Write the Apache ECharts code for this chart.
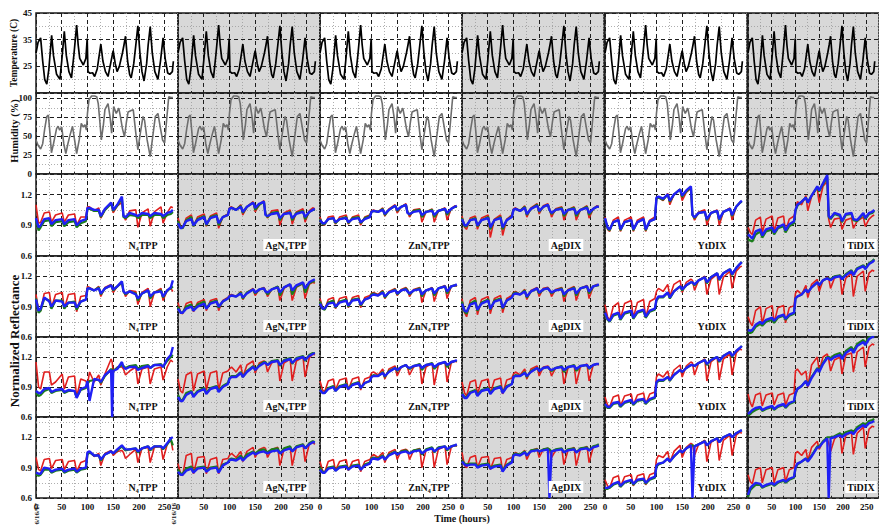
<!DOCTYPE html>
<html><head><meta charset="utf-8">
<script src="https://cdn.jsdelivr.net/npm/echarts@6/dist/echarts.min.js"></script>
<style>html,body{margin:0;padding:0;background:#fff}#c{width:879px;height:529px}</style>
</head><body><div id="c"></div>
<script>
// ---------- data ----------
const xTickLabels=[0,50,100,150,200,250];
const materials=['N₄TPP','AgN₄TPP','ZnN₄TPP','AgDIX','YtDIX','TiDIX'];

const tempHours=[0,4,9,13,17,21,25,30.4,34,40,46.5,50,55,59,64,69,74,79,82,85,92,97,99.5,101,105,110,114,119,122,126,130,135,140,145,150,154,157.6,162,168,171,174,178,182,185,190,194,198,202,206,210,215,218,222,226,231,237,242,247,251,256,260,265,267];
const tempC=[30,34,35.7,27,20,18.3,24,36.6,29,22,20.1,27,38.1,29,23,20.7,30,40.5,33,28,25.5,28,35.4,23,22.4,22.6,21.2,24,28,33.3,27,23,21.2,26,30.9,26,23,25,30,33,36.3,27,22,20.7,26,33,40.2,30,23,19.5,26,33,39.9,30,23,20.1,27,35.7,28,22.5,22,23,26.9];

const humHours=[0,4,9,13,17,21,24,27,30,34,40,43,46,50,54,58,62,66,71,75,79,84,88,92,95,98,100,103,108,114,118,121,124,127,131,134,140,144,147,151,156,161,164,168,172,176,179,185,189,194,198,203,208,211,216,222,227,232,237,242,246,250,254.5,258,262,266];
const humPct=[45,38,33,40,60,76,78,55,28,40,60,63,58,62,40,27,40,51,63,45,27,45,67,62,65,58,80,98,103,103,102,93,70,45,65,85,93,75,54,89,80,87,76,60,49,70,82,84,85,54,32,55,76,71,45,23,50,76,80,60,45,41,76,102,101,101];

const reflHours=[0,5,9,16,26,30,38,51,55,63,75,79,87,97,100,104,113,122,126,134,146,148,150,158,167,170,174,182,194,198,206,218,222,230,243,247,255,262,266];

// reflectance row 1
const r1c1Red=[1.10,0.92,0.93,1.02,1.03,0.93,1.00,1.02,0.93,1.00,1.01,0.90,0.98,0.98,1.08,1.08,1.04,1.07,0.97,1.05,1.12,1.08,1.02,1.09,1.12,1.00,0.95,1.04,1.05,0.88,1.02,1.06,0.89,1.03,1.08,0.92,1.02,1.08,1.07];
const r1c1Green=[0.95,0.85,0.88,0.94,0.95,0.89,0.93,0.94,0.89,0.93,0.94,0.88,0.92,0.94,1.06,1.06,1.04,1.04,0.98,1.05,1.11,1.08,1.04,1.09,1.16,0.98,0.97,1.00,0.99,0.97,1.00,1.00,0.97,1.00,1.00,0.97,1.00,1.01,1.03];
const r1c1Blue=[0.97,0.88,0.90,0.96,0.97,0.91,0.95,0.96,0.91,0.95,0.96,0.90,0.94,0.96,1.07,1.07,1.05,1.05,0.99,1.06,1.12,1.09,1.05,1.10,1.18,0.99,0.98,1.02,1.00,0.99,1.02,1.01,0.99,1.02,1.01,0.99,1.02,1.03,1.05];
const r1c2Red=[0.97,0.89,0.87,0.97,1.00,0.89,0.98,1.01,0.89,0.99,1.02,0.87,0.98,1.01,1.07,1.08,1.05,1.10,1.00,1.08,1.13,1.09,1.03,1.10,1.14,1.02,0.97,1.04,1.05,0.90,1.02,1.05,0.91,1.03,1.06,0.93,1.04,1.07,1.06];
const r1c2Green=[0.94,0.88,0.87,0.95,0.98,0.89,0.96,0.99,0.90,0.98,1.00,0.90,0.98,1.00,1.06,1.07,1.05,1.09,1.02,1.08,1.12,1.10,1.05,1.10,1.13,1.01,0.98,1.02,1.03,0.95,1.01,1.03,0.95,1.02,1.04,0.96,1.03,1.05,1.05];
const r1c2Blue=[0.92,0.87,0.88,0.94,0.96,0.90,0.95,0.98,0.91,0.97,0.99,0.92,0.98,1.00,1.06,1.07,1.05,1.08,1.03,1.08,1.12,1.10,1.07,1.11,1.13,1.00,0.99,1.01,1.02,0.97,1.01,1.02,0.97,1.01,1.03,0.98,1.03,1.05,1.06];
const r1c3Red=[0.98,0.91,0.90,0.98,0.99,0.91,0.98,1.00,0.91,0.98,1.00,0.90,0.98,1.00,1.04,1.05,1.03,1.07,0.99,1.06,1.10,1.06,1.02,1.08,1.11,1.04,0.98,1.05,1.06,0.93,1.03,1.06,0.93,1.04,1.07,0.95,1.06,1.09,1.08];
const r1c3Green=[0.96,0.91,0.91,0.96,0.97,0.92,0.96,0.98,0.92,0.97,0.98,0.92,0.97,0.99,1.03,1.04,1.03,1.06,1.00,1.05,1.09,1.07,1.04,1.08,1.10,1.03,1.00,1.04,1.05,0.98,1.03,1.05,0.98,1.04,1.06,1.00,1.06,1.08,1.08];
const r1c3Blue=[0.95,0.92,0.92,0.96,0.97,0.93,0.96,0.97,0.93,0.96,0.97,0.93,0.96,0.98,1.03,1.04,1.03,1.05,1.01,1.05,1.09,1.07,1.05,1.08,1.10,1.02,1.01,1.03,1.04,1.00,1.03,1.04,1.00,1.04,1.06,1.02,1.06,1.08,1.09];
const r1c4Red=[0.99,0.88,0.86,0.97,0.99,0.86,0.97,1.00,0.78,0.96,1.00,0.80,0.96,1.00,1.06,1.07,1.04,1.09,0.98,1.07,1.11,1.06,1.01,1.09,1.11,1.06,0.98,1.06,1.08,0.95,1.05,1.08,0.95,1.05,1.09,0.97,1.06,1.09,1.08];
const r1c4Green=[0.97,0.89,0.89,0.95,0.97,0.89,0.95,0.98,0.86,0.95,0.98,0.86,0.95,0.99,1.05,1.06,1.04,1.08,1.00,1.06,1.10,1.07,1.03,1.08,1.10,1.05,1.01,1.05,1.07,0.99,1.05,1.07,0.99,1.05,1.08,1.00,1.06,1.08,1.08];
const r1c4Blue=[0.96,0.90,0.90,0.95,0.96,0.90,0.95,0.97,0.88,0.95,0.97,0.88,0.95,0.98,1.05,1.06,1.04,1.07,1.01,1.06,1.09,1.07,1.04,1.08,1.10,1.05,1.02,1.05,1.06,1.01,1.05,1.06,1.01,1.05,1.07,1.02,1.06,1.08,1.08];
const r1c5Red=[0.98,0.86,0.84,0.95,0.98,0.84,0.95,0.98,0.84,0.95,0.98,0.84,0.95,0.98,1.16,1.17,1.14,1.21,1.10,1.20,1.25,1.19,1.14,1.22,1.26,1.01,0.95,1.03,1.05,0.90,1.02,1.05,0.90,1.03,1.07,0.95,1.08,1.12,1.13];
const r1c5Green=[0.96,0.87,0.85,0.93,0.95,0.85,0.93,0.95,0.85,0.93,0.96,0.85,0.94,0.96,1.16,1.17,1.15,1.20,1.13,1.20,1.25,1.21,1.18,1.23,1.27,1.00,0.97,1.02,1.03,0.95,1.02,1.04,0.95,1.03,1.06,0.99,1.08,1.12,1.13];
const r1c5Blue=[0.97,0.88,0.86,0.93,0.95,0.86,0.93,0.95,0.86,0.93,0.96,0.86,0.94,0.96,1.17,1.18,1.16,1.20,1.14,1.20,1.25,1.22,1.19,1.24,1.28,1.00,0.98,1.02,1.03,0.96,1.02,1.04,0.96,1.03,1.06,1.00,1.08,1.12,1.14];
const r1c6Red=[0.88,0.83,0.81,0.95,0.98,0.83,0.96,0.99,0.84,0.97,0.99,0.84,0.96,0.99,1.04,1.13,1.10,1.19,1.04,1.18,1.27,1.18,1.12,1.28,1.33,0.96,0.88,0.96,0.97,0.86,0.95,0.97,0.87,0.94,0.98,0.89,0.96,0.99,1.00];
const r1c6Green=[0.76,0.75,0.74,0.81,0.84,0.78,0.84,0.86,0.81,0.87,0.89,0.83,0.89,0.92,1.04,1.09,1.13,1.17,1.12,1.19,1.27,1.25,1.23,1.30,1.37,0.98,0.96,1.01,0.99,0.93,1.00,1.01,0.95,0.94,1.01,0.96,1.01,1.02,1.04];
const r1c6Blue=[0.81,0.79,0.77,0.84,0.86,0.80,0.86,0.88,0.83,0.88,0.91,0.85,0.91,0.94,1.05,1.10,1.13,1.17,1.12,1.19,1.28,1.26,1.24,1.31,1.39,0.99,0.97,1.02,1.00,0.94,1.01,1.02,0.96,0.95,1.02,0.97,1.02,1.03,1.05];

// reflectance row 2
const r2c1Red=[1.02,0.86,0.86,1.03,1.04,0.89,1.02,1.04,0.88,1.02,1.03,0.85,1.00,1.01,1.10,1.09,1.06,1.10,1.00,1.09,1.12,1.08,1.04,1.10,1.13,1.06,1.00,1.06,1.05,0.92,1.04,1.08,0.90,1.04,1.08,0.96,1.06,1.08,1.05];
const r2c1Green=[0.98,0.84,0.86,0.98,0.96,0.88,0.96,0.96,0.88,0.94,0.95,0.87,0.95,0.97,1.08,1.08,1.06,1.09,1.02,1.08,1.11,1.09,1.06,1.10,1.14,1.05,1.02,1.05,1.03,0.96,1.03,1.06,0.98,1.04,1.06,0.99,1.06,1.08,1.10];
const r2c1Blue=[0.97,0.86,0.88,0.99,0.95,0.90,0.96,0.95,0.90,0.94,0.94,0.89,0.95,0.97,1.08,1.08,1.06,1.08,1.03,1.08,1.11,1.09,1.07,1.10,1.15,1.05,1.03,1.05,1.02,0.98,1.03,1.06,1.00,1.04,1.05,1.00,1.06,1.09,1.16];
const r2c2Red=[0.94,0.84,0.83,0.93,0.95,0.85,0.94,0.97,0.86,0.96,0.98,0.86,0.96,0.99,1.01,1.02,1.00,1.05,0.97,1.04,1.08,1.04,1.01,1.07,1.09,1.06,1.00,1.07,1.10,0.96,1.08,1.12,0.96,1.09,1.13,0.98,1.12,1.14,1.13];
const r2c2Green=[0.90,0.84,0.84,0.90,0.92,0.86,0.92,0.95,0.88,0.94,0.96,0.89,0.95,0.98,1.00,1.01,1.00,1.04,0.98,1.04,1.07,1.05,1.03,1.07,1.08,1.05,1.02,1.07,1.10,1.01,1.09,1.12,1.02,1.10,1.13,1.04,1.13,1.15,1.15];
const r2c2Blue=[0.88,0.84,0.84,0.88,0.90,0.86,0.90,0.93,0.88,0.93,0.95,0.90,0.95,0.98,1.00,1.01,1.00,1.03,0.99,1.03,1.07,1.06,1.04,1.07,1.08,1.05,1.04,1.07,1.09,1.04,1.09,1.12,1.06,1.11,1.14,1.08,1.14,1.16,1.17];
const r2c3Red=[0.98,0.89,0.87,0.97,0.99,0.88,0.98,1.00,0.89,0.99,1.01,0.89,0.99,1.01,1.03,1.04,1.02,1.06,0.98,1.05,1.08,1.04,1.01,1.07,1.09,1.07,1.00,1.07,1.09,0.94,1.06,1.09,0.95,1.08,1.11,0.98,1.10,1.11,1.10];
const r2c3Green=[0.95,0.88,0.87,0.94,0.96,0.89,0.95,0.97,0.90,0.97,0.98,0.91,0.97,0.99,1.02,1.03,1.01,1.05,0.99,1.04,1.07,1.05,1.02,1.06,1.08,1.06,1.02,1.06,1.08,1.00,1.06,1.08,1.01,1.08,1.10,1.03,1.10,1.11,1.11];
const r2c3Blue=[0.93,0.88,0.88,0.93,0.94,0.90,0.94,0.96,0.91,0.96,0.97,0.92,0.97,0.99,1.01,1.02,1.01,1.04,1.00,1.04,1.06,1.05,1.03,1.06,1.07,1.05,1.03,1.06,1.07,1.02,1.06,1.08,1.03,1.08,1.10,1.05,1.10,1.11,1.12];
const r2c4Red=[0.98,0.84,0.80,0.96,0.99,0.82,0.97,1.00,0.83,0.98,1.01,0.84,0.98,1.01,1.04,1.05,1.02,1.07,0.97,1.06,1.09,1.04,1.00,1.08,1.09,1.07,1.00,1.07,1.09,0.95,1.07,1.10,0.96,1.08,1.11,0.98,1.10,1.12,1.11];
const r2c4Green=[0.95,0.85,0.83,0.93,0.96,0.86,0.94,0.97,0.87,0.96,0.98,0.88,0.96,0.99,1.03,1.04,1.02,1.06,0.99,1.05,1.08,1.05,1.03,1.07,1.08,1.06,1.03,1.06,1.08,1.00,1.06,1.09,1.01,1.08,1.10,1.03,1.10,1.11,1.11];
const r2c4Blue=[0.93,0.86,0.85,0.92,0.94,0.87,0.93,0.96,0.88,0.95,0.97,0.89,0.96,0.99,1.02,1.03,1.02,1.05,1.00,1.05,1.08,1.06,1.04,1.07,1.08,1.06,1.04,1.06,1.07,1.02,1.06,1.08,1.03,1.08,1.10,1.05,1.10,1.11,1.12];
const r2c5Red=[0.92,0.80,0.76,0.90,0.94,0.78,0.93,0.96,0.79,0.94,0.97,0.79,0.95,0.98,1.05,1.08,1.05,1.12,1.00,1.12,1.16,1.10,1.04,1.14,1.17,1.16,1.06,1.16,1.20,1.02,1.17,1.22,1.02,1.19,1.25,1.08,1.25,1.29,1.30];
const r2c5Green=[0.83,0.77,0.75,0.81,0.83,0.77,0.83,0.85,0.78,0.84,0.86,0.79,0.85,0.87,0.96,0.99,0.99,1.04,0.98,1.05,1.10,1.08,1.06,1.11,1.14,1.14,1.11,1.16,1.19,1.13,1.19,1.23,1.16,1.23,1.27,1.21,1.28,1.32,1.34];
const r2c5Blue=[0.84,0.78,0.76,0.82,0.84,0.78,0.84,0.86,0.79,0.85,0.87,0.80,0.86,0.88,0.97,1.00,1.00,1.04,0.99,1.05,1.10,1.09,1.07,1.11,1.14,1.14,1.12,1.16,1.19,1.14,1.19,1.23,1.17,1.23,1.27,1.22,1.28,1.32,1.34];
const r2c6Red=[0.80,0.74,0.71,0.86,0.90,0.73,0.88,0.91,0.74,0.89,0.91,0.74,0.89,0.91,1.03,1.06,1.02,1.11,0.99,1.12,1.17,1.10,1.05,1.16,1.19,1.18,1.08,1.18,1.21,1.02,1.18,1.23,1.00,1.20,1.25,1.05,1.23,1.26,1.25];
const r2c6Green=[0.64,0.64,0.65,0.70,0.73,0.71,0.75,0.77,0.74,0.79,0.81,0.77,0.81,0.83,0.98,1.00,1.02,1.07,1.04,1.09,1.14,1.13,1.11,1.16,1.18,1.18,1.17,1.20,1.21,1.18,1.22,1.26,1.22,1.28,1.31,1.28,1.33,1.35,1.37];
const r2c6Blue=[0.67,0.66,0.67,0.72,0.75,0.73,0.77,0.79,0.76,0.80,0.82,0.78,0.82,0.84,0.98,1.00,1.02,1.07,1.04,1.09,1.14,1.13,1.11,1.16,1.18,1.17,1.16,1.19,1.20,1.17,1.21,1.25,1.21,1.27,1.30,1.27,1.32,1.34,1.36];

// reflectance row 3
const r3c1Red=[1.15,0.90,0.88,1.05,1.05,0.92,0.95,1.03,0.88,1.00,1.01,0.80,0.98,0.96,0.92,1.05,0.95,1.02,0.92,1.03,1.18,1.15,1.05,1.10,1.10,1.08,1.02,1.06,1.10,0.93,1.08,1.10,0.93,1.08,1.10,0.97,1.10,1.17,1.15];
const r3c1Green=[0.84,0.81,0.82,0.86,0.88,0.84,0.86,0.87,0.84,0.86,0.86,0.80,0.87,0.89,0.93,0.96,0.97,0.97,0.94,1.01,1.08,1.07,1.06,1.09,1.12,1.11,1.09,1.11,1.12,1.08,1.11,1.12,1.09,1.12,1.13,1.10,1.16,1.20,1.22];
const r3c1Blue=[0.86,0.84,0.84,0.88,0.89,0.85,0.87,0.88,0.85,0.87,0.86,0.79,0.88,0.90,0.96,0.76,0.98,0.97,0.95,1.02,1.07,0.60,1.06,1.08,1.15,1.10,1.08,1.10,1.10,1.07,1.09,1.11,1.09,1.12,1.12,1.10,1.18,1.22,1.30];
const r3c2Red=[0.98,0.86,0.84,1.02,1.05,0.86,1.03,1.06,0.87,1.04,1.06,0.87,1.04,1.06,1.08,1.10,1.05,1.12,1.00,1.12,1.16,1.10,1.04,1.14,1.16,1.15,1.05,1.14,1.17,0.96,1.14,1.18,0.96,1.16,1.20,1.00,1.19,1.23,1.22];
const r3c2Green=[0.82,0.77,0.77,0.84,0.86,0.81,0.86,0.89,0.84,0.89,0.91,0.86,0.91,0.94,0.99,1.01,1.01,1.05,1.00,1.06,1.11,1.09,1.07,1.12,1.15,1.15,1.12,1.16,1.17,1.11,1.17,1.19,1.13,1.19,1.21,1.16,1.22,1.24,1.24];
const r3c2Blue=[0.80,0.76,0.76,0.82,0.85,0.80,0.85,0.88,0.83,0.88,0.90,0.85,0.90,0.93,0.98,1.00,1.00,1.04,1.00,1.05,1.10,1.09,1.07,1.11,1.14,1.14,1.12,1.15,1.16,1.12,1.16,1.18,1.14,1.18,1.20,1.17,1.21,1.23,1.24];
const r3c3Red=[0.96,0.87,0.85,0.96,0.98,0.87,0.97,0.99,0.87,0.98,1.00,0.87,0.98,1.00,1.04,1.05,1.02,1.08,0.98,1.08,1.11,1.06,1.01,1.10,1.12,1.10,1.02,1.10,1.13,0.93,1.10,1.14,0.92,1.12,1.15,0.95,1.14,1.16,1.15];
const r3c3Green=[0.88,0.84,0.84,0.89,0.91,0.86,0.91,0.93,0.88,0.93,0.95,0.89,0.94,0.96,1.00,1.02,1.01,1.05,1.00,1.06,1.09,1.08,1.06,1.10,1.12,1.10,1.08,1.11,1.13,1.07,1.12,1.14,1.08,1.13,1.15,1.10,1.15,1.16,1.16];
const r3c3Blue=[0.87,0.84,0.84,0.88,0.90,0.86,0.90,0.92,0.88,0.92,0.94,0.89,0.94,0.96,1.00,1.01,1.01,1.04,1.01,1.05,1.09,1.08,1.07,1.10,1.12,1.10,1.09,1.11,1.12,1.09,1.12,1.13,1.10,1.13,1.15,1.12,1.15,1.16,1.17];
const r3c4Red=[0.95,0.84,0.81,0.95,0.97,0.83,0.96,0.98,0.83,0.97,0.99,0.83,0.97,0.99,1.03,1.05,1.02,1.08,0.98,1.08,1.11,1.06,1.01,1.10,1.11,1.09,1.01,1.09,1.11,0.93,1.09,1.12,0.93,1.10,1.13,0.96,1.12,1.13,1.12];
const r3c4Green=[0.84,0.80,0.80,0.85,0.87,0.82,0.87,0.89,0.84,0.89,0.91,0.85,0.91,0.93,1.00,1.02,1.01,1.05,1.00,1.06,1.09,1.08,1.06,1.09,1.10,1.08,1.06,1.09,1.11,1.05,1.10,1.12,1.06,1.11,1.12,1.08,1.12,1.13,1.13];
const r3c4Blue=[0.83,0.79,0.79,0.84,0.86,0.81,0.86,0.88,0.83,0.88,0.90,0.84,0.90,0.93,1.00,1.01,1.01,1.04,1.01,1.05,1.09,1.08,1.06,1.09,1.10,1.08,1.07,1.09,1.10,1.07,1.10,1.11,1.08,1.11,1.12,1.09,1.12,1.13,1.13];
const r3c5Red=[0.80,0.72,0.70,0.80,0.82,0.71,0.81,0.83,0.72,0.82,0.84,0.73,0.83,0.85,1.00,1.03,1.00,1.06,0.96,1.07,1.12,1.06,1.00,1.11,1.15,1.14,1.02,1.14,1.18,0.96,1.15,1.20,0.97,1.18,1.23,1.02,1.24,1.28,1.27];
const r3c5Green=[0.72,0.69,0.69,0.73,0.74,0.70,0.74,0.76,0.72,0.76,0.77,0.73,0.77,0.79,0.94,0.96,0.96,1.00,0.96,1.02,1.07,1.06,1.05,1.09,1.12,1.12,1.11,1.14,1.17,1.12,1.17,1.20,1.15,1.21,1.25,1.20,1.26,1.29,1.31];
const r3c5Blue=[0.73,0.70,0.70,0.74,0.75,0.71,0.75,0.77,0.73,0.77,0.78,0.74,0.78,0.80,0.95,0.97,0.97,1.00,0.97,1.02,1.07,1.06,1.05,1.09,1.12,1.12,1.11,1.14,1.17,1.13,1.17,1.20,1.16,1.21,1.25,1.21,1.26,1.29,1.31];
const r3c6Red=[0.83,0.74,0.70,0.82,0.84,0.71,0.82,0.84,0.72,0.82,0.84,0.72,0.82,0.84,1.06,1.08,1.02,1.06,0.90,1.12,1.20,1.13,1.06,1.20,1.23,1.18,1.06,1.17,1.20,1.03,1.22,1.24,1.05,1.25,1.30,1.10,1.30,1.33,1.32];
const r3c6Green=[0.61,0.63,0.65,0.67,0.69,0.66,0.68,0.70,0.67,0.70,0.72,0.69,0.73,0.75,0.83,0.88,0.91,0.96,0.92,1.00,1.09,1.08,1.06,1.14,1.20,1.20,1.19,1.22,1.24,1.20,1.26,1.30,1.26,1.33,1.37,1.34,1.40,1.40,1.40];
const r3c6Blue=[0.63,0.65,0.67,0.69,0.70,0.67,0.69,0.71,0.68,0.71,0.73,0.70,0.74,0.76,0.84,0.88,0.91,0.96,0.91,0.99,1.08,1.07,1.05,1.13,1.19,1.19,1.17,1.20,1.22,1.18,1.24,1.28,1.24,1.31,1.35,1.32,1.38,1.40,1.40];

// reflectance row 4
const r4c1Red=[1.00,0.88,0.87,0.98,0.99,0.89,0.97,0.98,0.88,0.96,0.97,0.86,0.95,0.97,1.04,1.06,1.01,1.04,0.92,1.04,1.07,1.05,1.02,1.06,1.07,1.05,0.99,1.03,1.08,0.95,1.09,1.10,0.95,1.10,1.11,0.98,1.13,1.18,1.07];
const r4c1Green=[0.83,0.82,0.83,0.88,0.88,0.85,0.87,0.88,0.85,0.87,0.88,0.85,0.88,0.89,1.03,1.05,1.02,1.02,0.97,1.03,1.06,1.05,1.04,1.07,1.11,1.09,1.07,1.08,1.09,1.05,1.09,1.11,1.07,1.11,1.11,1.08,1.13,1.18,1.12];
const r4c1Blue=[0.85,0.84,0.84,0.90,0.89,0.86,0.88,0.89,0.86,0.88,0.89,0.86,0.89,0.90,1.05,1.06,1.02,1.02,0.98,1.03,1.06,1.05,1.04,1.08,1.12,1.10,1.08,1.08,1.09,1.06,1.09,1.11,1.08,1.11,1.11,1.09,1.14,1.19,1.20];
const r4c2Red=[0.94,0.84,0.82,1.02,1.04,0.84,1.00,1.01,0.84,0.98,1.00,0.84,0.98,0.99,1.02,1.04,1.00,1.06,0.96,1.06,1.10,1.05,1.00,1.08,1.10,1.09,1.00,1.08,1.10,0.92,1.08,1.11,0.92,1.10,1.13,0.96,1.13,1.15,1.13];
const r4c2Green=[0.88,0.84,0.84,0.89,0.91,0.86,0.90,0.91,0.87,0.90,0.91,0.86,0.93,0.95,0.98,0.99,0.98,1.02,0.98,1.03,1.06,1.05,1.04,1.07,1.08,1.07,1.05,1.08,1.09,1.04,1.09,1.11,1.06,1.11,1.13,1.09,1.14,1.16,1.15];
const r4c2Blue=[0.86,0.83,0.83,0.87,0.89,0.85,0.89,0.90,0.86,0.89,0.90,0.85,0.92,0.95,0.97,0.98,0.97,1.00,0.97,1.01,1.05,1.04,1.03,1.05,1.06,1.05,1.04,1.06,1.07,1.04,1.07,1.09,1.06,1.10,1.12,1.09,1.13,1.15,1.15];
const r4c3Red=[0.96,0.87,0.85,0.96,0.98,0.87,0.96,0.98,0.87,0.96,0.98,0.86,0.96,0.98,1.01,1.03,1.00,1.05,0.95,1.05,1.08,1.03,0.98,1.07,1.08,1.07,0.98,1.07,1.09,0.90,1.07,1.10,0.90,1.08,1.11,0.93,1.10,1.12,1.11];
const r4c3Green=[0.90,0.86,0.85,0.90,0.91,0.87,0.91,0.92,0.88,0.92,0.93,0.88,0.93,0.95,0.99,1.00,0.99,1.02,0.98,1.03,1.06,1.04,1.03,1.06,1.07,1.06,1.04,1.07,1.08,1.03,1.08,1.10,1.05,1.10,1.11,1.07,1.11,1.12,1.12];
const r4c3Blue=[0.88,0.85,0.85,0.89,0.90,0.87,0.90,0.91,0.88,0.91,0.92,0.88,0.92,0.94,0.98,0.99,0.98,1.01,0.98,1.02,1.05,1.04,1.03,1.05,1.06,1.05,1.04,1.06,1.07,1.04,1.07,1.09,1.06,1.09,1.11,1.08,1.11,1.12,1.13];
const r4c4Red=[1.05,0.92,0.90,1.00,1.02,0.90,1.00,1.01,0.88,0.99,1.00,0.86,0.98,1.00,1.03,1.05,1.02,1.07,0.98,1.07,1.09,1.04,1.00,1.08,1.09,1.08,1.00,1.07,1.09,0.93,1.07,1.10,0.92,1.08,1.11,0.95,1.10,1.12,1.11];
const r4c4Green=[0.97,0.94,0.93,0.94,0.94,0.91,0.93,0.94,0.90,0.92,0.93,0.87,0.93,0.96,1.03,1.04,1.03,1.06,1.02,1.07,1.08,1.07,1.06,1.08,1.09,1.08,1.06,1.08,1.09,1.05,1.08,1.09,1.05,1.09,1.10,1.07,1.11,1.12,1.13];
const r4c4Blue=[0.96,0.93,0.92,0.93,0.93,0.90,0.92,0.93,0.89,0.91,0.92,0.86,0.92,0.95,1.02,1.03,1.02,1.05,1.02,1.06,1.07,1.07,1.06,1.07,1.08,0.60,1.06,1.07,1.08,1.05,1.07,1.08,1.05,1.08,1.09,1.07,1.10,1.11,1.12];
const r4c5Red=[0.78,0.72,0.70,0.80,0.82,0.71,0.81,0.83,0.72,0.82,0.84,0.73,0.83,0.85,0.98,1.02,1.00,1.06,0.95,1.06,1.12,1.06,1.00,1.10,1.14,1.13,1.02,1.13,1.17,0.96,1.15,1.19,0.97,1.17,1.22,1.02,1.22,1.25,1.24];
const r4c5Green=[0.69,0.69,0.70,0.73,0.75,0.71,0.75,0.77,0.73,0.77,0.78,0.74,0.78,0.80,0.91,0.93,0.95,0.99,0.96,1.01,1.07,1.06,1.05,1.09,1.12,1.12,1.11,1.13,1.16,1.12,1.16,1.19,1.15,1.20,1.23,1.20,1.24,1.26,1.27];
const r4c5Blue=[0.70,0.70,0.71,0.74,0.76,0.72,0.76,0.78,0.74,0.78,0.79,0.75,0.79,0.81,0.92,0.94,0.95,0.99,0.96,1.01,1.07,1.06,1.05,1.09,1.12,0.60,1.11,1.13,1.16,1.12,1.16,1.19,1.15,1.20,1.23,1.20,1.24,1.26,1.27];
const r4c6Red=[0.83,0.76,0.74,0.88,0.90,0.75,0.88,0.90,0.75,0.88,0.90,0.76,0.88,0.90,1.04,1.06,1.02,1.08,0.97,1.10,1.16,1.12,1.08,1.16,1.18,1.14,1.06,1.18,1.24,1.04,1.22,1.25,1.03,1.24,1.30,1.09,1.28,1.31,1.30];
const r4c6Green=[0.61,0.68,0.70,0.73,0.73,0.70,0.72,0.74,0.72,0.75,0.77,0.75,0.78,0.80,0.89,0.93,0.96,0.99,0.97,1.02,1.11,1.11,1.11,1.16,1.20,1.20,1.20,1.21,1.24,1.22,1.25,1.27,1.25,1.30,1.34,1.32,1.36,1.37,1.38];
const r4c6Blue=[0.63,0.70,0.72,0.75,0.74,0.71,0.73,0.75,0.73,0.76,0.78,0.76,0.79,0.81,0.90,0.94,0.96,0.99,0.96,1.01,1.10,1.10,1.10,1.15,1.19,0.60,1.19,1.20,1.22,1.20,1.23,1.25,1.23,1.28,1.32,1.30,1.34,1.35,1.36];

const reflRed=[[r1c1Red,r1c2Red,r1c3Red,r1c4Red,r1c5Red,r1c6Red],[r2c1Red,r2c2Red,r2c3Red,r2c4Red,r2c5Red,r2c6Red],[r3c1Red,r3c2Red,r3c3Red,r3c4Red,r3c5Red,r3c6Red],[r4c1Red,r4c2Red,r4c3Red,r4c4Red,r4c5Red,r4c6Red]];
const reflGreen=[[r1c1Green,r1c2Green,r1c3Green,r1c4Green,r1c5Green,r1c6Green],[r2c1Green,r2c2Green,r2c3Green,r2c4Green,r2c5Green,r2c6Green],[r3c1Green,r3c2Green,r3c3Green,r3c4Green,r3c5Green,r3c6Green],[r4c1Green,r4c2Green,r4c3Green,r4c4Green,r4c5Green,r4c6Green]];
const reflBlue=[[r1c1Blue,r1c2Blue,r1c3Blue,r1c4Blue,r1c5Blue,r1c6Blue],[r2c1Blue,r2c2Blue,r2c3Blue,r2c4Blue,r2c5Blue,r2c6Blue],[r3c1Blue,r3c2Blue,r3c3Blue,r3c4Blue,r3c5Blue,r3c6Blue],[r4c1Blue,r4c2Blue,r4c3Blue,r4c4Blue,r4c5Blue,r4c6Blue]];

// ---------- layout ----------
const colLeft=[36,178,320,462,605,748], colW=142;
const rowTop=[13,93,174,256,337,417], rowH=[80,81,82,81,80,81];
const shaded=[false,true,false,true,false,true];
const labelOffset=[107,108,109,104,107,113];
const serif='"Liberation Serif","Times New Roman",serif';

const grids=[],xAxes=[],yAxes=[],series=[],graphics=[];
const pair=(hs,vs)=>hs.map((t,i)=>[t,vs[i]]);

for(let r=0;r<6;r++){
  for(let c=0;c<6;c++){
    const gi=r*6+c;
    grids.push({left:colLeft[c],top:rowTop[r],width:colW,height:rowH[r],show:true,
      backgroundColor:shaded[c]?'#d8d8d8':'#ffffff',borderColor:'#1a1a1a',borderWidth:1.5});
    xAxes.push({gridIndex:gi,type:'value',min:0,max:276,interval:50,
      axisLine:{show:false},
      axisTick:{show:true,inside:true,length:3,lineStyle:{color:'#222'}},
      minorTick:{show:true,splitNumber:2,length:2,lineStyle:{color:'#222'}},
      splitLine:{show:true,lineStyle:{color:'#1e1e1e',type:[4,3],width:1}},
      minorSplitLine:{show:true,lineStyle:{color:'#9a9a9a',type:[1,2],width:0.8}},
      axisLabel:{show:r===5,fontFamily:serif,fontWeight:'bold',fontSize:9,color:'#111',margin:4,showMaxLabel:false,
        formatter:v=>xTickLabels.includes(v)?String(v):''}});
    let y;
    if(r===0){
      y={min:15,max:45,interval:10,axisLabel:{showMinLabel:false}};
    }else if(r===1){
      y={min:0,max:107,interval:25,axisLabel:{showMaxLabel:false}};
    }else{
      y={min:0.6,max:1.4,interval:0.3,axisLabel:{showMaxLabel:false}};
    }
    yAxes.push({gridIndex:gi,type:'value',min:y.min,max:y.max,interval:y.interval,
      axisLine:{show:false},axisTick:{show:false},
      splitLine:{show:true,lineStyle:{color:'#1e1e1e',type:[4,3],width:1}},
      minorTick:{show:false,splitNumber:2},
      minorSplitLine:{show:true,lineStyle:{color:'#9a9a9a',type:[1,2],width:0.8}},
      axisLabel:Object.assign({show:c===0,fontFamily:serif,fontWeight:'bold',fontSize:9,color:'#111',margin:4},y.axisLabel)});
    const base={type:'line',xAxisIndex:gi,yAxisIndex:gi,showSymbol:false,symbol:'none',animation:false,clip:true,silent:true};
    if(r===0){
      series.push(Object.assign({},base,{data:pair(tempHours,tempC),lineStyle:{color:'#000',width:1.7}}));
    }else if(r===1){
      series.push(Object.assign({},base,{data:pair(humHours,humPct),lineStyle:{color:'#6e6e6e',width:1.6}}));
    }else{
      const k=r-2;
      series.push(Object.assign({},base,{data:pair(reflHours,reflRed[k][c]),lineStyle:{color:'#e01f1f',width:1.6}}));
      series.push(Object.assign({},base,{data:pair(reflHours,reflGreen[k][c]),lineStyle:{color:'#1b7d1b',width:2.2}}));
      series.push(Object.assign({},base,{data:pair(reflHours,reflBlue[k][c]),lineStyle:{color:'#2020f5',width:2.4}}));
      graphics.push({type:'text',z:100,x:colLeft[c]+labelOffset[c],y:rowTop[r]+rowH[r]-11,
        style:{text:materials[c],align:'center',verticalAlign:'middle',fontFamily:serif,fontWeight:'bold',fontSize:10,
          fill:'#111',backgroundColor:'#ffffff',padding:[1,2]}});
    }
  }
}

const tstyle=(t,fs)=>({text:t,x:0,y:0,align:'center',verticalAlign:'middle',fontFamily:serif,fontWeight:'bold',fontSize:fs,fill:'#111'});
graphics.push({type:'text',x:14,y:53,rotation:Math.PI/2,style:tstyle('Temperature (C)',9.5)});
graphics.push({type:'text',x:14,y:131,rotation:Math.PI/2,style:tstyle('Humidity (%)',10.5)});
graphics.push({type:'text',x:14,y:341,rotation:Math.PI/2,style:tstyle('Normalized Reflectance',13)});
graphics.push({type:'text',x:462,y:518,style:tstyle('Time (hours)',10)});
const dateStyle=(t)=>({text:t,x:0,y:0,align:'right',verticalAlign:'middle',fontFamily:serif,fontWeight:'bold',fontSize:7,fill:'#111'});
graphics.push({type:'text',x:37,y:503,rotation:Math.PI/2,style:dateStyle('6/16/17')});
graphics.push({type:'text',x:174,y:503,rotation:Math.PI/2,style:dateStyle('6/16/16')});

const chart=echarts.init(document.getElementById('c'),null,{renderer:'svg',width:879,height:529});
chart.setOption({animation:false,backgroundColor:'#ffffff',grid:grids,xAxis:xAxes,yAxis:yAxes,series:series,graphic:graphics});
</script></body></html>
